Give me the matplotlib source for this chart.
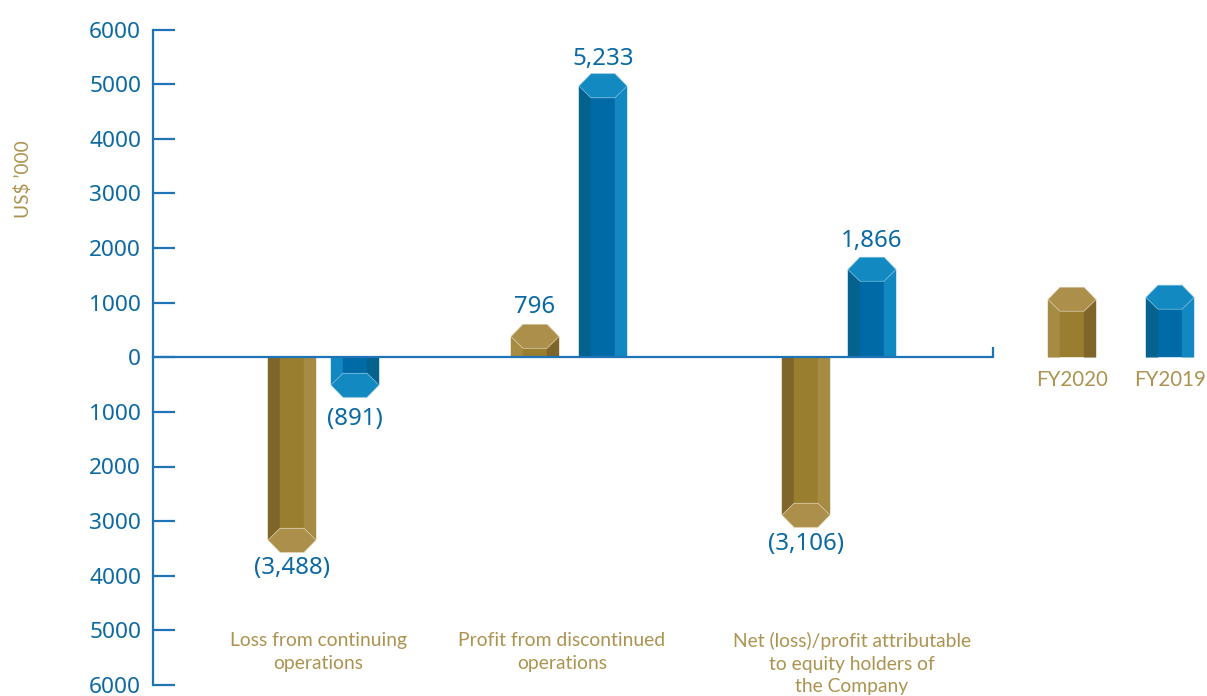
import matplotlib
matplotlib.use("Agg")
import matplotlib.pyplot as plt
from matplotlib.patches import Polygon

# =========================
# DATA
# =========================

CATEGORIES = [
    "Loss from continuing\noperations",
    "Profit from discontinued\noperations",
    "Net (loss)/profit attributable\nto equity holders of\nthe Company",
]
SERIES = ["FY2020", "FY2019"]

# bar lengths (US$ '000)
FY2020_VALUES = [-3571, 604, -3113]
FY2019_VALUES = [-733, 5190, 1831]

FY2020_LABELS = ["(3,488)", "796", "(3,106)"]
FY2019_LABELS = ["(891)", "5,233", "1,866"]

YTICKS = [-6000, -5000, -4000, -3000, -2000, -1000, 0, 1000, 2000, 3000, 4000, 5000, 6000]
LEGEND_VALUES = [1282, 1319]

# =========================
# LAYOUT (x axis runs in figure pixels)
# =========================

W, H = 1207, 696
X_LEFT, X_RIGHT = 153, 993
Y_TOP, Y_BOTTOM = 29.5, 685

FY2020_X = [292, 535, 806]
FY2019_X = [355, 603, 872]
CATEGORY_X = [318, 562, 852]
LEGEND_X = [1072, 1170]

BAR_W = 48
CAP_DEPTH = 440      # data units, about 24 px
CAP_SIDE = 225       # data units, about 12 px

# label centre distance from the bar end, in px
FY2020_OFFSET = [16, 17, 17]
FY2019_OFFSET = [22, 15, 16]

GOLD = {"dark": "#7F6529", "front": "#9A7E30", "light": "#A68B42", "cap": "#AD8F4C"}
BLUE = {"dark": "#04628F", "front": "#006AA6", "light": "#1288C2", "cap": "#1389C1"}

AXIS_BLUE = "#1F73B7"
TEXT_BLUE = "#0B69A3"
TEXT_GOLD = "#AD9350"
EDGE = "#D9CFA8"

NUM_FONT = ["Noto Sans", "DejaVu Sans"]
CAPTION_FONT = ["Lato", "DejaVu Sans"]


def prism(ax, xc, value, colors, edge):
    """Hexagonal column from 0 to value, cap drawn at the far end."""
    sign = 1 if value >= 0 else -1
    x0, x1 = xc - BAR_W / 2, xc + BAR_W / 2
    fl, fr = x0 + 12, x1 - 12
    tl, tr = x0 + 12, x1 - 12
    y_side = value - sign * CAP_SIDE
    y_front = value - sign * CAP_DEPTH

    # shading swaps sides between the two colours and between up and down columns
    left_col = colors["dark"] if (colors is BLUE and sign > 0) or (colors is GOLD and sign < 0) else colors["light"]
    right_col = colors["light"] if left_col == colors["dark"] else colors["dark"]

    faces = [
        ([(x0, 0), (x0, y_side), (fl, y_front), (fl, 0)], left_col),
        ([(fl, 0), (fl, y_front), (fr, y_front), (fr, 0)], colors["front"]),
        ([(fr, 0), (fr, y_front), (x1, y_side), (x1, 0)], right_col),
    ]
    for pts, col in faces:
        ax.add_patch(Polygon(pts, closed=True, facecolor=col, edgecolor=col,
                             linewidth=0.3, zorder=2, clip_on=False))
    cap = [(x0, y_side), (tl, value), (tr, value), (x1, y_side), (fr, y_front), (fl, y_front)]
    ax.add_patch(Polygon(cap, closed=True, facecolor=colors["cap"], edgecolor=edge,
                         linewidth=0.5, zorder=2.2, clip_on=False))


# =========================
# PLOT
# =========================

fig = plt.figure(figsize=(W / 100, H / 100), dpi=100)
ax = fig.add_axes([X_LEFT / W, 1 - Y_BOTTOM / H, (X_RIGHT - X_LEFT) / W, (Y_BOTTOM - Y_TOP) / H])
ax.set_xlim(X_LEFT, X_RIGHT)
ax.set_ylim(-6000, 6000)

for xc, value in zip(FY2020_X, FY2020_VALUES):
    prism(ax, xc, value, GOLD, EDGE)
for xc, value in zip(FY2019_X, FY2019_VALUES):
    prism(ax, xc, value, BLUE, "#7FBEDD")

# value labels
for xs, vals, labels, offs in [(FY2020_X, FY2020_VALUES, FY2020_LABELS, FY2020_OFFSET),
                               (FY2019_X, FY2019_VALUES, FY2019_LABELS, FY2019_OFFSET)]:
    for xc, value, label, off in zip(xs, vals, labels, offs):
        sign = 1 if value >= 0 else -1
        ax.annotate(label, (xc, value), xytext=(0, sign * off * 0.72), textcoords="offset points",
                    ha="center", va="center", color=TEXT_BLUE, fontsize=17.3, family=NUM_FONT,
                    annotation_clip=False)

# =========================
# AXES
# =========================

for side in ["top", "right"]:
    ax.spines[side].set_visible(False)
ax.spines["bottom"].set_position(("data", 0))
for side in ["left", "bottom"]:
    ax.spines[side].set_color(AXIS_BLUE)
    ax.spines[side].set_linewidth(1.6)
    ax.spines[side].set_zorder(3)

ax.set_yticks(YTICKS)
ax.set_yticklabels([str(abs(t)) for t in YTICKS], color=TEXT_BLUE, fontsize=16.3, family=NUM_FONT)
ax.tick_params(axis="y", direction="in", length=16, width=1.6, color=AXIS_BLUE, pad=8.5)

# end tick on the zero line
ax.set_xticks([X_RIGHT])
ax.set_xticklabels([""])
ax.tick_params(axis="x", direction="in", length=7, width=1.6, color=AXIS_BLUE)

# =========================
# TEXT
# =========================

for xc, label in zip(CATEGORY_X, CATEGORIES):
    ax.text(xc, -5035, label, ha="center", va="top", color=TEXT_GOLD, fontsize=13.85,
            family=CAPTION_FONT, linespacing=1.39, clip_on=False)

fig.text(23 / W, 1 - 179 / H, "US$ \u2019000", rotation=90, ha="center", va="center",
         color=TEXT_GOLD, fontsize=13.7, family=CAPTION_FONT)

# =========================
# LEGEND
# =========================

for xc, value, name, colors, edge in zip(LEGEND_X, LEGEND_VALUES, SERIES, [GOLD, BLUE], [EDGE, "#7FBEDD"]):
    prism(ax, xc, value, colors, edge)
    ax.text(xc, -410, name, ha="center", va="center", color=TEXT_GOLD, fontsize=14.8,
            family=CAPTION_FONT, clip_on=False)

fig.savefig("out.png", dpi=100)
